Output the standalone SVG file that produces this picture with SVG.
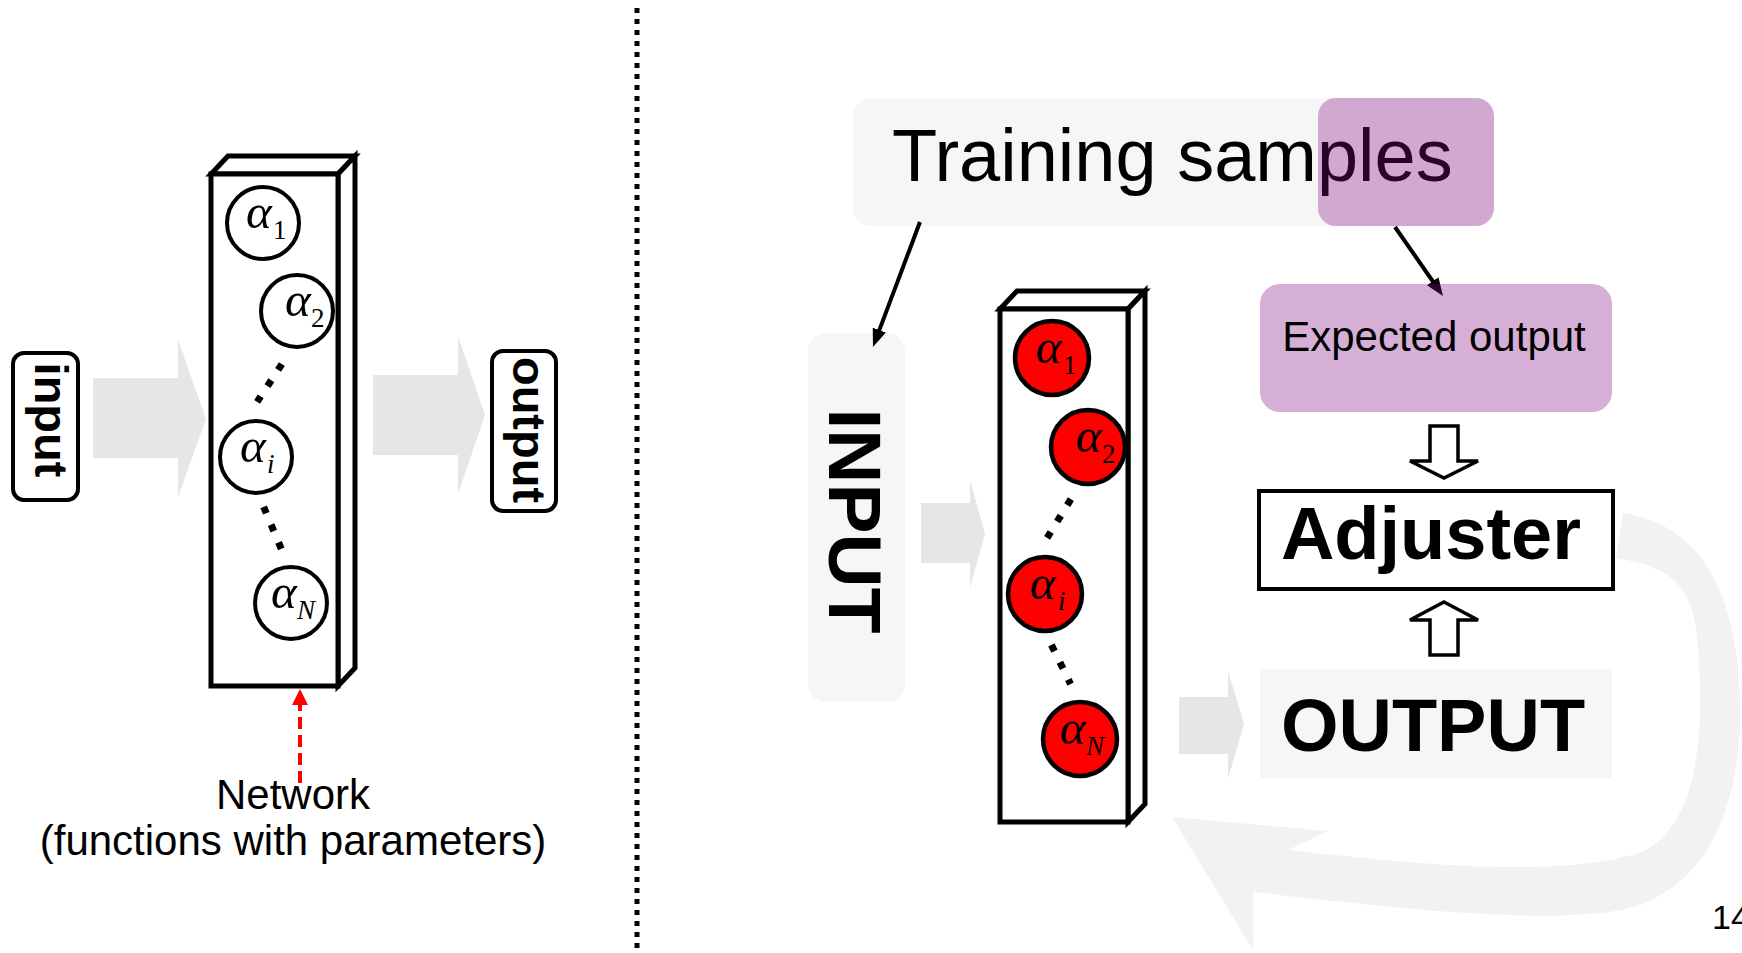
<svg xmlns="http://www.w3.org/2000/svg" width="1742" height="953" viewBox="0 0 1742 953">
  <defs>
    <style>
      .sans{font-family:"Liberation Sans",Arial,sans-serif;fill:#000}
      .bold{font-family:"Liberation Sans",Arial,sans-serif;font-weight:bold;fill:#000}
      .greek{font-family:"Liberation Serif","Times New Roman",serif;font-style:italic;font-size:49px;fill:#000}
      .sub{font-size:27px}
      .up{font-style:normal}
      .box3d{fill:#fff;stroke:#000;stroke-width:5;stroke-linejoin:miter}
      .param{fill:#fff;stroke:#000;stroke-width:4}
      .param.on{fill:#ff0000;stroke-width:4.5}
      .dots{fill:none;stroke:#000;stroke-width:7;stroke-dasharray:7 12.3}
      .block{fill:#e6e6e6}
      .pale{fill:#f7f5f6}
      .loop{fill:#f2f2f2}
      .hollow{fill:#fff;stroke:#000;stroke-width:3.5;stroke-linejoin:miter}
      .tag{fill:#fff;stroke:#000;stroke-width:4}
      .hl{fill:#810981;fill-opacity:0.325}
      .link{fill:none;stroke:#000;stroke-width:4}
      .tune{fill:none;stroke:#ff0000;stroke-width:4;stroke-dasharray:12 6}
    </style>
    <marker id="head" viewBox="0 0 18 14" refX="4" refY="7" markerWidth="18" markerHeight="14" markerUnits="userSpaceOnUse" orient="auto">
      <path d="M0,0 L18,7 L0,14 Z" fill="#000"/>
    </marker>
    <marker id="headRed" viewBox="0 0 16 16" refX="2" refY="8" markerWidth="16" markerHeight="16" markerUnits="userSpaceOnUse" orient="auto">
      <path d="M0,0 L16,8 L0,16 Z" fill="#ff0000"/>
    </marker>
  </defs>

  <rect width="1742" height="953" fill="#fff"/>

  <!-- left panel: network as a parameterised function -->
  <g id="input-tag">
    <rect class="tag" x="13" y="353" width="65" height="147" rx="11"/>
    <text class="bold" font-size="47" text-anchor="middle" transform="translate(35,420) rotate(90)">input</text>
  </g>

  <g id="network">
    <polygon class="box3d" points="211,174 228,156 355,156 338,174"/>
    <polygon class="box3d" points="338,174 355,156 355,668 338,686"/>
    <rect class="box3d" x="211" y="174" width="127" height="512"/>
    <g id="param-1">
      <circle class="param" cx="263" cy="223" r="36"/>
      <text class="greek" x="246" y="228">α<tspan class="sub up" x="273" y="239">1</tspan></text>
    </g>
    <g id="param-2">
      <circle class="param" cx="297" cy="311" r="36"/>
      <text class="greek" x="285" y="316">α<tspan class="sub up" x="311" y="327">2</tspan></text>
    </g>
    <path class="dots" d="M281.9,364.1 L257.1,401.9"/>
    <g id="param-i">
      <circle class="param" cx="256" cy="457" r="36"/>
      <text class="greek" x="240" y="462">α<tspan class="sub" x="267" y="473">i</tspan></text>
    </g>
    <path class="dots" d="M263.6,506.8 L281.4,549.2"/>
    <g id="param-N">
      <circle class="param" cx="291" cy="603" r="36"/>
      <text class="greek" x="271" y="608">α<tspan class="sub" x="297" y="619">N</tspan></text>
    </g>
  </g>

  <g id="network-label">
    <text class="sans" font-size="42" x="293" y="809" text-anchor="middle">Network</text>
    <text class="sans" font-size="42" x="293" y="855" text-anchor="middle">(functions with parameters)</text>
  </g>

  <g id="output-tag">
    <rect class="tag" x="492" y="351" width="64" height="160" rx="11"/>
    <text class="bold" font-size="47" text-anchor="middle" transform="translate(513,430) rotate(90)">output</text>
  </g>

  <!-- panel divider -->
  <line x1="637" y1="8" x2="637" y2="953" stroke="#000" stroke-width="5" stroke-dasharray="5 6"/>

  <!-- right panel: training loop -->
  <g id="training-samples">
    <rect class="pale" x="853" y="98" width="641" height="128" rx="18"/>
    <text class="sans" font-size="74" x="892" y="181">Training samples</text>
    <rect class="hl" x="1318" y="98" width="176" height="128" rx="18"/>
  </g>

  <g id="input-block">
    <rect class="pale" x="808" y="333" width="97" height="369" rx="18"/>
    <text class="bold" font-size="75" text-anchor="middle" transform="translate(829,521) rotate(90)">INPUT</text>
  </g>

  <g id="network-trained">
    <polygon class="box3d" points="1000,309 1017,291 1145,291 1128,309"/>
    <polygon class="box3d" points="1128,309 1145,291 1145,804 1128,822"/>
    <rect class="box3d" x="1000" y="309" width="128" height="513"/>
    <g id="param-t1">
      <circle class="param on" cx="1052" cy="358" r="37"/>
      <text class="greek" x="1036" y="363">α<tspan class="sub up" x="1063" y="374">1</tspan></text>
    </g>
    <g id="param-t2">
      <circle class="param on" cx="1088" cy="447" r="37"/>
      <text class="greek" x="1076" y="452">α<tspan class="sub up" x="1102" y="463">2</tspan></text>
    </g>
    <path class="dots" d="M1070.9,499.1 L1047.1,537.9"/>
    <g id="param-ti">
      <circle class="param on" cx="1045" cy="594" r="37"/>
      <text class="greek" x="1030" y="599">α<tspan class="sub" x="1058" y="610">i</tspan></text>
    </g>
    <path class="dots" d="M1051.4,644.9 L1070.6,684.1"/>
    <g id="param-tN">
      <circle class="param on" cx="1080" cy="739" r="37"/>
      <text class="greek" x="1060" y="744">α<tspan class="sub" x="1086" y="755">N</tspan></text>
    </g>
  </g>

  <g id="adjuster">
    <rect class="tag" x="1259" y="491" width="354" height="98"/>
    <text class="bold" font-size="74" x="1431" y="559" text-anchor="middle">Adjuster</text>
  </g>

  <g id="output-block">
    <rect class="pale" x="1260" y="669" width="352" height="109"/>
    <text class="bold" font-size="74" x="1433" y="751" text-anchor="middle">OUTPUT</text>
  </g>

  <g id="connectors">
    <!-- data flow -->
    <path class="block" d="M93,378 H178 V340 L206,419 L178,497 V458 H93 Z"/>
    <path class="block" d="M373,375 H458 V336 L485,415 L458,494 V455 H373 Z"/>
    <path class="block" d="M921,503 H970 V480 L985,534 L970,588 V563 H921 Z"/>
    <path class="block" d="M1179,697 H1228 V671 L1244,724 L1228,779 V754 H1179 Z"/>
    <!-- parameter tuning -->
    <path class="tune" d="M300,783 V703" marker-end="url(#headRed)"/>
    <!-- sample split -->
    <path class="link" d="M920,222 L877.9,333.9" marker-end="url(#head)"/>
    <path class="link" d="M1395,227 L1435,284.5" marker-end="url(#head)"/>
    <!-- comparison -->
    <path class="hollow" d="M1430,426 H1458 V461 H1478 L1444,478 L1410,461 H1430 Z"/>
    <path class="hollow" d="M1444,602 L1478,620 H1458 V655 H1430 V620 H1410 Z"/>
    <!-- feedback loop -->
    <path class="loop" d="M1623,513 C1682,522 1738,565 1740,707 C1741,800 1712,878 1640,905 C1580,925 1450,915 1253,892 L1253,950 L1172,817 L1328,831 L1288,850 C1450,868 1560,876 1640,853 C1690,830 1702,760 1700,683 C1698,600 1690,570 1616,558 Z"/>
  </g>

  <g id="expected-output">
    <rect class="hl" x="1260" y="284" width="352" height="128" rx="20"/>
    <text class="sans" font-size="42" x="1434" y="351" text-anchor="middle">Expected output</text>
  </g>

  <text class="sans" font-size="34" x="1712" y="929">14</text>
</svg>
